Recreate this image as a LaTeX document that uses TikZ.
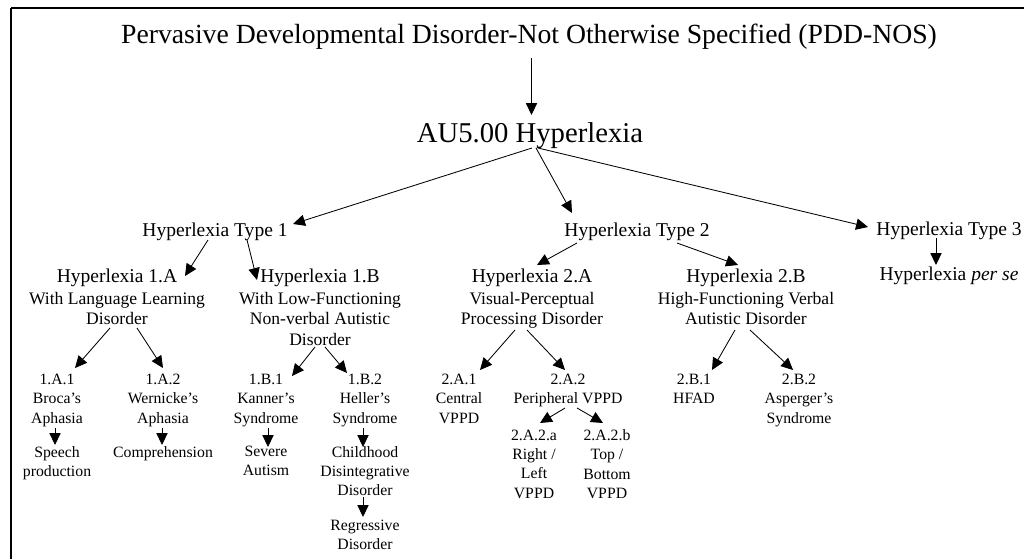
\documentclass[tikz,border=0pt]{standalone}
\usepackage{fontspec}
\setmainfont{Liberation Serif}
\usetikzlibrary{arrows.meta,calc}

\tikzset{
  toptitle/.style={font=\fontsize{19.7}{23}\selectfont, inner sep=0pt, anchor=base},
  rootnode/.style={font=\fontsize{20.4}{24}\selectfont, inner sep=0pt, anchor=base},
  typenode/.style={font=\fontsize{13.9}{16.5}\selectfont, inner sep=0pt, anchor=base},
  subtype/.style={font=\fontsize{12.5}{14.4}\selectfont, align=center, inner sep=0pt, anchor=north},
  leaf/.style={font=\fontsize{11.2}{13.7}\selectfont, align=center, inner sep=0pt, anchor=north},
  link/.style={-{Triangle[length=8.5pt,width=8pt]}, line width=0.6pt},
  frame/.style={line width=1.4pt}
}
\newcommand{\subhead}[1]{{\fontsize{13.9}{16.5}\selectfont #1}}

\begin{document}
\begin{tikzpicture}[x=0.025cm, y=-0.025cm]
	\useasboundingbox (0,0) rectangle (1024,559);
	\draw[frame] (11,8) -- (1024,8);
	\draw[frame] (11,8) -- (11,559);
	% top of the tree
	\node[toptitle] (title) at (529,43) {Pervasive Developmental Disorder-Not Otherwise Specified (PDD-NOS)};
	\node[rootnode] (au) at (530,142) {AU5.00 Hyperlexia};
	\node[typenode] (t1) at (215,236) {Hyperlexia Type 1};
	\node[typenode] (t2) at (637,236) {Hyperlexia Type 2};
	\node[typenode] (t3) at (949,235) {Hyperlexia Type 3};
	\node[typenode] (perse) at (949,280) {Hyperlexia \textit{per se}};
	% subtypes
	\node[subtype] (h1a) at (117,269) {\subhead{Hyperlexia 1.A}\\[1pt] With Language Learning\\ Disorder};
	\node[subtype] (h1b) at (320,269) {\subhead{Hyperlexia 1.B}\\[1pt] With Low-Functioning\\ Non-verbal Autistic\\ Disorder};
	\node[subtype] (h2a) at (532,269) {\subhead{Hyperlexia 2.A}\\[1pt] Visual-Perceptual\\ Processing Disorder};
	\node[subtype] (h2b) at (746,269) {\subhead{Hyperlexia 2.B}\\[1pt] High-Functioning Verbal\\ Autistic Disorder};
	% leaves
	\node[leaf] (s1a1) at (57,374) {1.A.1\\ Broca's\\ Aphasia};
	\node[leaf] (s1a2) at (163,374) {1.A.2\\ Wernicke's\\ Aphasia};
	\node[leaf] (s1b1) at (266,374) {1.B.1\\ Kanner's\\ Syndrome};
	\node[leaf] (s1b2) at (365,374) {1.B.2\\ Heller's\\ Syndrome};
	\node[leaf] (s2a1) at (459,374) {2.A.1\\ Central\\ VPPD};
	\node[leaf] (s2a2) at (568,374) {2.A.2\\ Peripheral VPPD};
	\node[leaf] (s2b1) at (694,374) {2.B.1\\ HFAD};
	\node[leaf] (s2b2) at (799,374) {2.B.2\\ Asperger's\\ Syndrome};
	\node[leaf] (speech) at (57,446) {Speech\\ production};
	\node[leaf] (compr) at (163,446) {Comprehension};
	\node[leaf] (severe) at (266,446) {Severe\\ Autism};
	\node[leaf] (cdd) at (365,446) {Childhood\\ Disintegrative\\ Disorder};
	\node[leaf] (regr) at (365,519.5) {Regressive\\ Disorder};
	\node[leaf] (rl) at (534,429.5) {2.A.2.a\\ Right /\\ Left\\ VPPD};
	\node[leaf] (tb) at (607,429.5) {2.A.2.b\\ Top /\\ Bottom\\ VPPD};
	% arrows
	\draw[link] ($(title.base)+(2.5,15)$) -- ($(au.base)+(1.5,-27)$);
	\draw[link] ($(au.base)+(2,6)$) -- ($(t1.base)+(78,-12)$);
	\draw[link] ($(au.base)+(6,6)$) -- ($(t2.base)+(-65,-23)$);
	\draw[link] ($(au.base)+(8,6)$) -- ($(t3.base)+(-81,-8)$);
	\draw[link] ($(t1.base)+(-7,4)$) -- ($(h1a.north)+(68,7)$);
	\draw[link] ($(t1.base)+(32,4)$) -- ($(h1b.north)+(-63,11)$);
	\draw[link] ($(t2.base)+(-60,7)$) -- ($(h2a.north)+(5,-4)$);
	\draw[link] ($(t2.base)+(40,7)$) -- ($(h2b.north)+(-8,-4)$);
	\draw[link] ($(t3.base)+(-13,3)$) -- ($(perse.base)+(-13,-15)$);
	\draw[link] ($(h1a.north)+(-7,59)$) -- ($(s1a1.north)+(18,-6)$);
	\draw[link] ($(h1a.north)+(20,59)$) -- ($(s1a2.north)+(0,-6)$);
	\draw[link] ($(h1b.north)+(-5,78)$) -- ($(s1b1.north)+(26,2)$);
	\draw[link] ($(h1b.north)+(5,78)$) -- ($(s1b2.north)+(-18,-1)$);
	\draw[link] ($(h2a.north)+(-17,61)$) -- ($(s2a1.north)+(21,-4)$);
	\draw[link] ($(h2a.north)+(-5,61)$) -- ($(s2a2.north)+(-3,-4)$);
	\draw[link] ($(h2b.north)+(-11,61)$) -- ($(s2b1.north)+(18,-4)$);
	\draw[link] ($(h2b.north)+(4,61)$) -- ($(s2b2.north)+(-6,-4)$);
	\draw[link] ($(s1a1.north)+(-2,54)$) -- ($(speech.north)+(-2,-1)$);
	\draw[link] ($(s1a2.north)+(-1,54)$) -- ($(compr.north)+(-1,-1)$);
	\draw[link] ($(s1b1.north)+(2,54)$) -- ($(severe.north)+(2,1)$);
	\draw[link] ($(s1b2.north)+(-2,54)$) -- ($(cdd.north)+(-2,1)$);
	\draw[link] ($(cdd.north)+(-2,51)$) -- ($(regr.north)+(-2,-2.5)$);
	\draw[link] ($(s2a2.north)+(-3,34)$) -- ($(rl.north)+(6,-6.5)$);
	\draw[link] ($(s2a2.north)+(9,34)$) -- ($(tb.north)+(-4,-6.5)$);
\end{tikzpicture}
\end{document}
